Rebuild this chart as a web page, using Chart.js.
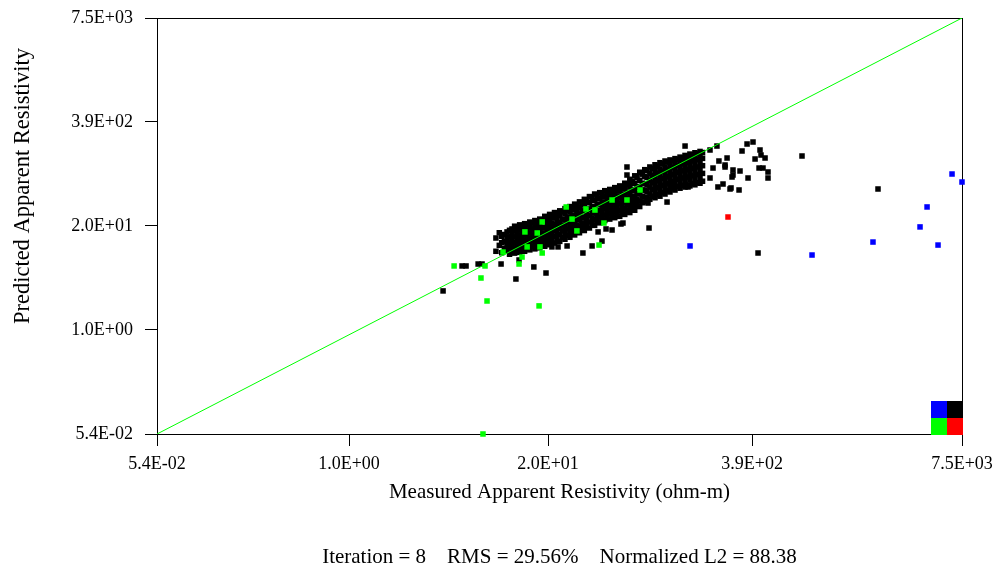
<!DOCTYPE html>
<html><head><meta charset="utf-8">
<script src="https://cdn.jsdelivr.net/npm/chart.js@4"></script>
<style>html,body{margin:0;padding:0;background:#fff;}#wrap{width:999px;height:575px;}</style>
</head><body><div id="wrap"><canvas id="c" width="999" height="575"></canvas></div>
<script>
// Axis range and tick labels (log axes)
const axisMin = 0.054, axisMax = 7500;
const xTickValues = [0.054, 0.91, 17.0, 342, 7500];
const yTickValues = [0.054, 1.043, 20.13, 388.6, 7500];
const tickLabels = ['5.4E-02', '1.0E+00', '2.0E+01', '3.9E+02', '7.5E+03'];
const xTitle = 'Measured Apparent Resistivity (ohm-m)';
const yTitle = 'Predicted Apparent Resistivity';
const footer = 'Iteration = 8    RMS = 29.56%    Normalized L2 = 88.38';

// Black points: dense band (set A)
const blackBandMeasured = [
  7.9,7.9, 8.3,8.3, 8.6,8.6,8.6, 9.3,9.3,9.3,9.3,
  10,10,10,10,10,
  10.8,10.8,10.8,10.8,10.8,
  11.6,11.6,11.6,11.6,11.6,
  12.5,12.5,12.5,12.5,12.5,
  13.5,13.5,13.5,13.5,13.5,
  14.5,14.5,14.5,14.5,14.5,
  15.6,15.6,15.6,15.6,15.6,
  16.8,16.8,16.8,16.8,16.8,
  18,18,18,18,18,
  19.4,19.4,19.4,19.4,19.4,
  21,21,21,21,21,
  22.6,22.6,22.6,22.6,22.6,
  24.3,24.3,24.3,24.3,24.3,
  26,26,26,26,26,
  28,28,28,28,28,
  30,30,30,30,30,
  32.5,32.5,32.5,32.5,32.5,
  35,35,35,35,35,
  37.7,37.7,37.7,37.7,37.7,
  40.6,40.6,40.6,40.6,40.6,
  43.7,43.7,43.7,43.7,43.7,
  47,47,47,47,47,
  50.6,50.6,50.6,50.6,50.6,
  54.5,54.5,54.5,54.5,54.5,
  58.7,58.7,58.7,58.7,58.7,
  63,63,63,63,63,
  68,68,68,68,68,
  73,73,73,73,73,
  79,79,79,79,79,
  85,85,85,85,85,
  91.5,91.5,91.5,91.5,91.5,
  98.5,98.5,98.5,98.5,98.5,
  106,106,106,106,106,
  114,114,114,114,114,
  123,123,123,123,123,
  132,132,132,132,132,
  142,142,142,142,142,
  153,153,153,153,153,
  165,165,165,165,165
];
const blackBandPredicted = [
  9.8,14.3, 11.6,16.6, 9.4,12.5,15, 10,11.8,14,17,
  9.7,11.5,13.2,15.5,18.5,
  10.2,12,14,16.5,19.5,
  10.5,12.3,14.5,17,20,
  10.7,12.8,15,17.5,21,
  11.2,13.2,15.5,18.5,22,
  11.5,13.5,16,19,23,
  12,14,16.5,19.5,24,
  12.5,14.8,17.5,21,25.5,
  13,15.5,18.5,22,27,
  13.8,16.5,19.5,23.5,28.5,
  14.5,17.5,20.5,24.5,30,
  15.5,18.5,22,26,31.5,
  16.5,19.5,23,27.5,33.5,
  17.5,20.5,24.5,29.5,36,
  18.8,22,26,31,38.5,
  20,23.5,28,33,41.5,
  21.5,25,29.5,35,45,
  23,27,31.5,37.5,47.5,
  25,29,34,40,51,
  26,30.5,36,42.5,53,
  27,32,37.5,45,55,
  28,33,39.5,47.5,57,
  29.5,35,42,50,61,
  31,37,44,53,66,
  33,39,47,57,72,
  36,43,51,62,80,
  39,47,56,68,88,
  45,54,65,80,97,
  47,57,69,84,104,
  49,60,73,90,110,
  52,64,78,96,118,
  55,67,82,101,124,
  58,71,87,107,129,
  62,76,93,113,134,
  64,79,97,118,140,
  65,81,100,123,147,
  67,84,104,128,153,
  69,87,108,133,158,
  72,90,112,138,163
];
// Black points: dense band (set B, between set A columns)
const blackBand2Measured = [
  8.95,8.95,8.95,
  9.65,9.65,9.65,9.65,9.65,
  10.4,10.4,10.4,10.4,10.4,10.4,
  11.2,11.2,11.2,11.2,11.2,11.2,
  12.05,12.05,12.05,12.05,12.05,12.05,
  13,13,13,13,13,13,
  14,14,14,14,14,14,
  15.05,15.05,15.05,15.05,15.05,15.05,
  16.2,16.2,16.2,16.2,16.2,16.2,
  17.4,17.4,17.4,17.4,17.4,17.4,
  18.7,18.7,18.7,18.7,18.7,18.7,
  20.2,20.2,20.2,20.2,20.2,20.2,
  21.8,21.8,21.8,21.8,21.8,21.8,
  23.45,23.45,23.45,23.45,23.45,23.45,
  25.15,25.15,25.15,25.15,25.15,25.15,
  27,27,27,27,27,27,
  29,29,29,29,29,29,
  31.25,31.25,31.25,31.25,31.25,31.25,
  33.75,33.75,33.75,33.75,33.75,33.75,
  36.35,36.35,36.35,36.35,36.35,36.35,
  39.15,39.15,39.15,39.15,39.15,39.15,
  42.15,42.15,42.15,42.15,42.15,42.15,
  45.35,45.35,45.35,45.35,45.35,45.35,
  48.8,48.8,48.8,48.8,48.8,48.8,
  52.55,52.55,52.55,52.55,52.55,52.55,
  56.6,56.6,56.6,56.6,56.6,56.6,
  60.85,60.85,60.85,60.85,60.85,60.85,
  65.5,65.5,65.5,65.5,65.5,65.5,
  70.5,70.5,70.5,70.5,70.5,70.5,
  76,76,76,76,76,76,
  82,82,82,82,82,82,
  88.2,88.2,88.2,88.2,88.2,88.2,
  95,95,95,95,95,95,
  102.2,102.2,102.2,102.2,102.2,102.2,
  110,110,110,110,110,110,
  118.5,118.5,118.5,118.5,118.5,118.5,
  127.5,127.5,127.5,127.5,127.5,127.5,
  137,137,137,137,137,137,
  147.5,147.5,147.5,147.5,147.5,147.5,
  159,159,159,159,159,159
];
const blackBand2Predicted = [
  10.6,12.9,15.8,
  9.0,10.8,12.6,14.8,17.8,
  9.3,10.8,12.6,14.8,17.4,20,
  9.5,11.2,13,15.2,18,20.8,
  9.8,11.5,13.5,15.8,18.7,21.5,
  10.2,12,14,16.5,19.5,22.5,
  10.5,12.3,14.5,17,20.5,23.5,
  10.8,12.7,15,17.8,21.3,24.5,
  11.3,13.5,16,19,23,26.5,
  11.8,14.2,16.8,20,24.2,28,
  12.4,15,17.8,21,25.5,29.5,
  13,15.8,18.8,22.3,27,31,
  13.8,16.8,20,23.8,28.5,33,
  14.6,17.8,21,25,30,35,
  15.6,18.8,22.3,26.5,32,37.5,
  16.6,20,23.8,28.3,34,40,
  17.7,21.2,25.5,30.5,36.5,43,
  19,22.5,27,32.5,39,46.5,
  20.5,24.3,29,34.5,41.5,50,
  22,26,31,37,44,52,
  23.5,27.5,33,39,46.5,55,
  24.5,29,34.5,41,49,57,
  25.5,30.5,36,43,52,60,
  26.5,31.5,38,45.5,55,63,
  28,33,40,48,58,68,
  29.5,35,42,51,62,76,
  31.5,37.5,45,55,68,84,
  35,41,50,61,74,93,
  40,46,56,67,82,100,
  43,50,61,73,90,108,
  45,53,64,78,95,115,
  47,56,68,83,102,122,
  50,59,72,88,108,128,
  53,62,76,92,113,132,
  56,66,80,97,119,137,
  59,70,85,103,124,143,
  61,72,88,108,130,150,
  63,75,92,113,136,156,
  65,78,96,118,141,162,
  68,80,99,122,146,168
];
// Black points: scattered
const blackScatterMeasured = [3.63,4.80,5.09,6.08,6.44,8.52,10.6,11.1,13.8,16.5,18.0,19.7,22.5,28.4,32.5,37.6,35.5,39.9,43.6,49.7,51.2,54.3,54.3,127.6,184.2,204,192.5,210,236.7,229.8,258.3,254.6,184.2,207,223,247.2,133.3,106.9,97.9,74.0,75.1,295,317.6,346.7,384.3,390,413.9,357.3,378.9,401.6,432.3,432.3,229.8,286.4,258.3,322.2,282.3,712.8,373.3,2180,250.9];
const blackScatterPredicted = [3.17,6.45,6.45,6.82,6.82,6.82,4.45,7.65,6.27,5.28,11.1,11.1,11.4,9.33,11.4,13.1,17.0,18.5,17.96,21.3,21.9,85.9,107.9,196,175.1,196,104.8,128,139.4,107.9,99.1,81.2,78.9,61.1,66.5,57.7,61.1,64.7,39.8,38.7,19.0,170.2,207.7,219.8,175.1,151.8,139.4,135.5,104.8,104.8,93.6,78.9,114.2,96.3,85.9,78.9,56.1,147.6,9.33,57.7,59.4];
// Green points
const greenMeasured = [4.27,6.73,6.34,6.93,14.9,6.53,11.1,11.6,8.77,12.5,15.6,12.1,14.5,15.6,22.2,24.2,26.0,29.7,33.9,36.0,38.7,43.6,54.3,65.8,15.1];
const greenPredicted = [6.45,6.45,4.58,2.38,2.07,0.054,6.82,8.32,9.59,11.1,9.33,17.0,16.5,22.6,34.6,24.5,17.5,32.7,31.7,11.7,21.9,42.2,42.2,56.1,11.1];
// Blue points
const blueMeasured = [137.3,826,2025,4045,4486,5272,6477,7500];
const bluePredicted = [11.4,8.81,12.75,19.6,34.6,11.7,88.4,70.4];
// Red point
const redMeasured = [240];
const redPredicted = [26.0];
// 1:1 reference line
const refLine = [axisMin, axisMax];

const pts = (xs, ys) => xs.map((x, i) => ({x: x, y: ys[i]}));
const FONT = '"Liberation Serif", "Times New Roman", serif';

const pointDs = (label, data, color, order) => ({
  label, data, order,
  backgroundColor: color, borderColor: color, borderWidth: 0,
  pointStyle: 'rect', pointRadius: 3.9, pointHoverRadius: 3.9,
  showLine: false, clip: false
});

const framePlugin = {
  id: 'frame',
  beforeDraw(chart) {
    const ctx = chart.ctx;
    ctx.save(); ctx.fillStyle = '#fff';
    ctx.fillRect(0, 0, chart.width, chart.height); ctx.restore();
  },
  beforeDatasetsDraw(chart) {
    const {ctx, chartArea: a} = chart;
    ctx.save();
    ctx.strokeStyle = '#000'; ctx.lineWidth = 1;
    ctx.beginPath();
    ctx.moveTo(a.left, Math.round(a.top) + 0.5); ctx.lineTo(a.right + 1, Math.round(a.top) + 0.5);
    ctx.moveTo(Math.round(a.right) + 0.5, a.top); ctx.lineTo(Math.round(a.right) + 0.5, a.bottom + 1);
    ctx.stroke();
    ctx.restore();
  },
  afterDraw(chart) {
    const {ctx, chartArea: a} = chart;
    ctx.save();
    ctx.fillStyle = '#0000ff'; ctx.fillRect(a.right - 31, a.bottom - 33, 16, 17);
    ctx.fillStyle = '#000000'; ctx.fillRect(a.right - 15, a.bottom - 33, 16, 17);
    ctx.fillStyle = '#00ff00'; ctx.fillRect(a.right - 31, a.bottom - 16, 16, 17);
    ctx.fillStyle = '#ff0000'; ctx.fillRect(a.right - 15, a.bottom - 16, 16, 17);
    ctx.translate(23, 186);
    ctx.rotate(-Math.PI / 2);
    ctx.fillStyle = '#000';
    ctx.font = '22.5px ' + FONT;
    ctx.textAlign = 'center'; ctx.textBaseline = 'middle';
    ctx.fillText(yTitle, 0, 0);
    ctx.restore();
  }
};

new Chart(document.getElementById('c'), {
  type: 'scatter',
  data: {
    datasets: [
      {label: '1:1', data: pts(refLine, refLine), showLine: true, borderColor: '#00ff00',
       borderWidth: 1, pointRadius: 0, pointHoverRadius: 0, fill: false, order: 0},
      pointDs('green', pts(greenMeasured, greenPredicted), '#00ff00', 1),
      pointDs('blue', pts(blueMeasured, bluePredicted), '#0000ff', 2),
      pointDs('red', pts(redMeasured, redPredicted), '#ff0000', 3),
      pointDs('black', pts(
        blackBandMeasured.concat(blackBand2Measured, blackScatterMeasured),
        blackBandPredicted.concat(blackBand2Predicted, blackScatterPredicted)), '#000000', 4)
    ]
  },
  options: {
    responsive: false, animation: false, devicePixelRatio: 1,
    layout: {padding: {left: 0, right: 37, top: 18, bottom: 0}},
    plugins: {legend: {display: false}, tooltip: {enabled: false}},
    scales: {
      x: {
        type: 'logarithmic', min: axisMin, max: axisMax, bounds: 'data',
        afterBuildTicks: s => { s.ticks = xTickValues.map(v => ({value: v})); },
        afterFit: s => { s.height = 141; s.paddingLeft = 0; s.paddingRight = 0; },
        ticks: {
          autoSkip: false, maxRotation: 0, minRotation: 0, padding: 7, color: '#000',
          font: {family: FONT, size: 18},
          callback: (v, i) => tickLabels[i]
        },
        grid: {drawOnChartArea: false, drawTicks: true, tickLength: 12, color: '#000'},
        border: {display: true, color: '#000', width: 1},
        title: {
          display: true, text: [xTitle, '', footer], color: '#000',
          font: {family: FONT, size: 21, lineHeight: 1.55},
          padding: {top: 0, bottom: 1}
        }
      },
      y: {
        type: 'logarithmic', min: axisMin, max: axisMax, bounds: 'data',
        afterBuildTicks: s => { s.ticks = yTickValues.map(v => ({value: v})); },
        afterFit: s => { s.width = 157; s.paddingTop = 0; s.paddingBottom = 0; },
        ticks: {
          autoSkip: false, padding: 12, color: '#000',
          font: {family: FONT, size: 18},
          callback: (v, i) => tickLabels[i]
        },
        grid: {drawOnChartArea: false, drawTicks: true, tickLength: 12, color: '#000'},
        border: {display: true, color: '#000', width: 1}
      }
    }
  },
  plugins: [framePlugin]
});
</script>
</body></html>
